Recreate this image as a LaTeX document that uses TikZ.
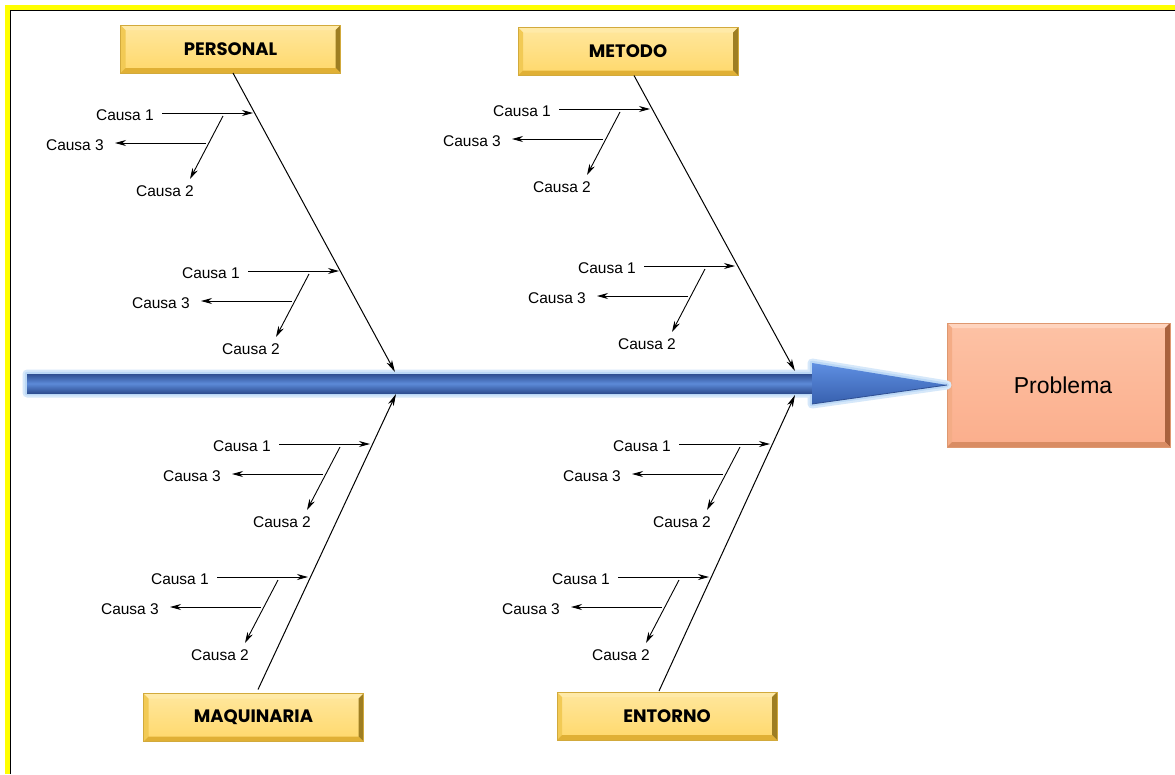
\documentclass[tikz,border=0pt]{standalone}
\usepackage{fontspec}
\setmainfont{Liberation Sans}
\newfontfamily\boxfont{Poppins}
\usetikzlibrary{arrows.meta,calc}

\definecolor{frameyellow}{HTML}{FFFF00}
\definecolor{goldtop}{HTML}{FFEAA8}
\definecolor{goldleft}{HTML}{F2CA55}
\definecolor{goldright}{HTML}{9E7E22}
\definecolor{goldbottom}{HTML}{E0B035}
\definecolor{goldedge}{HTML}{D2AA3C}
\definecolor{goldfacetop}{HTML}{FFE79E}
\definecolor{goldfacebot}{HTML}{FFD86A}
\definecolor{salmtop}{HTML}{FFD4BE}
\definecolor{salmleft}{HTML}{F4AC86}
\definecolor{salmright}{HTML}{A9623E}
\definecolor{salmbottom}{HTML}{D98C63}
\definecolor{salmedge}{HTML}{DE9870}
\definecolor{salmfacetop}{HTML}{FDC2A5}
\definecolor{salmfacebot}{HTML}{FBAE8C}
\definecolor{glowblue}{HTML}{BBD8F6}
\definecolor{shaftdark}{HTML}{2F4F92}
\definecolor{shaftmid}{HTML}{5C8AD8}
\definecolor{headtop}{HTML}{5F8FE2}
\definecolor{headbot}{HTML}{3760AE}

% bevelled frame drawn around an existing rectangular node
\newcommand\bevelframe[6]{%
  \fill[#2] (#1.north west) -- (#1.north east) -- ([shift={(-5,5)}]#1.north east) -- ([shift={(5,5)}]#1.north west) -- cycle;
  \fill[#3] (#1.north west) -- ([shift={(5,5)}]#1.north west) -- ([shift={(5,-5)}]#1.south west) -- (#1.south west) -- cycle;
  \fill[#4] (#1.north east) -- (#1.south east) -- ([shift={(-5,-5)}]#1.south east) -- ([shift={(-5,5)}]#1.north east) -- cycle;
  \fill[#5] (#1.south west) -- ([shift={(5,-5)}]#1.south west) -- ([shift={(-5,-5)}]#1.south east) -- (#1.south east) -- cycle;
  \draw[#6, line width=0.8pt] (#1.north west) rectangle (#1.south east);
}

% one group of three causes hanging off a bone; #2 is the arrow tip on the bone
\newcommand\causegroup[2]{%
  \begin{scope}[shift={(#2)}]
    \node[causa, anchor=east] (#1one) at (-99,1.5) {Causa 1};
    \node[causa, anchor=east] (#1three) at (-149,32) {Causa 3};
    \node[causa] (#1two) at (-88,78) {Causa 2};
    \coordinate (#1s) at (-91,0);
    \coordinate (#1d) at (-30,3);
    \coordinate (#1e) at (-63,66);
    \coordinate (#1m) at (-47,30);
    \coordinate (#1n) at (-138,30);
  \end{scope}
  \draw[cause] (#1s) -- (#2);
  \draw[cause] (#1d) -- (#1e);
  \draw[cause] (#1m) -- (#1n);
}

\tikzset{
  causa/.style={font=\fontsize{15.5}{18}\selectfont, inner sep=0pt, text height=11pt, text depth=0pt},
  cause/.style={line width=0.9pt, -{Stealth[length=11pt, width=6pt, inset=3.5pt]}},
  bone/.style={line width=1pt, -{Stealth[length=12pt, width=6pt, inset=3.5pt]}},
  goldbox/.style={minimum width=220pt, minimum height=48pt, inner sep=0pt, outer sep=0pt,
    top color=goldfacetop, bottom color=goldfacebot,
    font=\boxfont\bfseries\fontsize{18}{21}\selectfont},
  probbox/.style={minimum width=223pt, minimum height=124pt, inner sep=0pt, outer sep=0pt,
    top color=salmfacetop, bottom color=salmfacebot,
    font=\fontsize{23}{27}\selectfont},
}

\begin{document}
\begin{tikzpicture}[x=1pt, y=-1pt]
  \useasboundingbox (0,0) rectangle (1175,774);
  \fill[white] (0,0) rectangle (1175,774);

  % frame
  \fill[frameyellow] (5,5) rectangle (1175,9.5);
  \fill[frameyellow] (5,5) rectangle (9.5,774);
  \draw[black, line width=1pt] (10,774) -- (10,10) -- (1175,10);

  % category boxes
  \node[goldbox] (per) at (230.5,49) {PERSONAL};
  \node[goldbox] (met) at (628,51.5) {METODO};
  \node[goldbox] (maq) at (253.5,717.5) {MAQUINARIA};
  \node[goldbox] (ent) at (667,716) {ENTORNO};
  \foreach \b in {per,met,maq,ent}
    \bevelframe{\b}{goldtop}{goldleft}{goldright}{goldbottom}{goldedge};

  % effect box
  \node[probbox] (prob) at (1058.5,385) {\hspace*{9pt}Problema};
  \bevelframe{prob}{salmtop}{salmleft}{salmright}{salmbottom}{salmedge};

  % spine arrow
  \coordinate (tail) at (27,383.5);
  \coordinate (neck) at (812,383.5);
  \draw[glowblue!60, line width=9pt, line join=round]
    (27,374) -- (812,374) -- (812,363) -- (prob.west) -- (812,404) -- (812,393) -- (27,393) -- cycle;
  \draw[glowblue, line width=4.5pt, line join=round]
    (27,374) -- (812,374) -- (812,363) -- (prob.west) -- (812,404) -- (812,393) -- (27,393) -- cycle;
  \shade[top color=shaftdark, bottom color=shaftdark, middle color=shaftmid]
    (tail |- 0,374) rectangle (neck |- 0,393);
  \shade[top color=headtop, bottom color=headbot]
    (812,363) -- (prob.west) -- (812,404) -- cycle;
  \draw[shaftdark, line width=0.8pt] (812,404) -- (prob.west);

  % bones
  \coordinate (perEnd) at (395,372);
  \coordinate (metEnd) at (795,371);
  \coordinate (maqEnd) at (396,394);
  \coordinate (entEnd) at (795,395);
  \draw[bone] ([xshift=2.5pt]per.south) -- (perEnd);
  \draw[bone] ([xshift=6pt]met.south) -- (metEnd);
  \draw[bone] ([shift={(4.5,-4)}]maq.north) -- (maqEnd);
  \draw[bone] ([shift={(-8,-1)}]ent.north) -- (entEnd);

  % arrow tips of the causes on the bones
  \coordinate (P1) at (253,113);
  \coordinate (P2) at (339,271);
  \coordinate (M1) at (650,109);
  \coordinate (M2) at (735,266);
  \coordinate (Q1) at (370,444);
  \coordinate (Q2) at (308,577);
  \coordinate (E1) at (770,444);
  \coordinate (E2) at (709,577);

  \causegroup{pa}{P1}
  \causegroup{pb}{P2}
  \causegroup{ma}{M1}
  \causegroup{mb}{M2}
  \causegroup{qa}{Q1}
  \causegroup{qb}{Q2}
  \causegroup{ea}{E1}
  \causegroup{eb}{E2}
\end{tikzpicture}
\end{document}
